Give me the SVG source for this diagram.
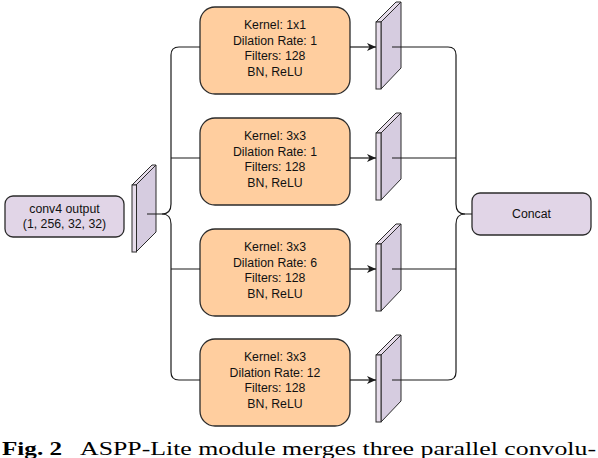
<svg xmlns="http://www.w3.org/2000/svg" width="598" height="458" viewBox="0 0 598 458">
<style>
.conv{fill:#ffce9f;stroke:#2b2b2b;stroke-width:1.3}
.pbox{fill:#e1d5e7;stroke:#2b2b2b;stroke-width:1.3}
.pf{fill:#e6dcea;stroke:#2b2b2b;stroke-width:1}
.ps{fill:#d6cce0;stroke:#2b2b2b;stroke-width:1}
.t{font-family:"Liberation Sans",Arial,sans-serif;font-size:12.3px;fill:#111;text-anchor:middle}
.w{fill:none;stroke:#1a1a1a;stroke-width:1.2}
.cap{font-family:"Liberation Serif","Times New Roman",serif;font-size:19px;fill:#000}
</style>
<defs>
<marker id="ah" markerWidth="10" markerHeight="8" refX="9" refY="4" orient="auto" markerUnits="userSpaceOnUse">
<path d="M0,0 L9,4 L0,8 L2.5,4 Z" fill="#1a1a1a"/>
</marker>
</defs>

<g id="input">
<rect class="pbox" x="5" y="196" width="119" height="41" rx="8"/>
<text class="t" x="64.5" y="213">conv4 output</text>
<text class="t" x="64.5" y="227.5">(1, 256, 32, 32)</text>
</g>

<g id="plate-in">
<polygon class="ps" points="136,185 156,165 156,232 136,252"/>
<polygon class="pf" points="132,185 152,165 156,165 136,185"/>
<rect class="pf" x="132" y="185" width="4.5" height="67"/>
</g>

<g id="conv1">
<rect class="conv" x="200" y="7" width="150" height="87" rx="15"/>
<text class="t" x="275" y="29">Kernel: 1x1</text>
<text class="t" x="275" y="44.5">Dilation Rate: 1</text>
<text class="t" x="275" y="60">Filters: 128</text>
<text class="t" x="275" y="75.5">BN, ReLU</text>
</g>
<g id="conv2">
<rect class="conv" x="200" y="118" width="150" height="87" rx="15"/>
<text class="t" x="275" y="140">Kernel: 3x3</text>
<text class="t" x="275" y="155.5">Dilation Rate: 1</text>
<text class="t" x="275" y="171">Filters: 128</text>
<text class="t" x="275" y="186.5">BN, ReLU</text>
</g>
<g id="conv3">
<rect class="conv" x="200" y="229" width="150" height="87" rx="15"/>
<text class="t" x="275" y="251">Kernel: 3x3</text>
<text class="t" x="275" y="266.5">Dilation Rate: 6</text>
<text class="t" x="275" y="282">Filters: 128</text>
<text class="t" x="275" y="297.5">BN, ReLU</text>
</g>
<g id="conv4">
<rect class="conv" x="200" y="339" width="150" height="87" rx="15"/>
<text class="t" x="275" y="361">Kernel: 3x3</text>
<text class="t" x="275" y="376.5">Dilation Rate: 12</text>
<text class="t" x="275" y="392">Filters: 128</text>
<text class="t" x="275" y="407.5">BN, ReLU</text>
</g>

<g id="plate1">
<polygon class="ps" points="381,22 401,2 401,68 381,89"/>
<polygon class="pf" points="376,22 396,2 401,2 381,22"/>
<rect class="pf" x="376" y="22" width="5" height="67"/>
</g>
<g id="plate2">
<polygon class="ps" points="381,133 401,113 401,179 381,200"/>
<polygon class="pf" points="376,133 396,113 401,113 381,133"/>
<rect class="pf" x="376" y="133" width="5" height="67"/>
</g>
<g id="plate3">
<polygon class="ps" points="381,244 401,224 401,290 381,311"/>
<polygon class="pf" points="376,244 396,224 401,224 381,244"/>
<rect class="pf" x="376" y="244" width="5" height="67"/>
</g>
<g id="plate4">
<polygon class="ps" points="381,355 401,335 401,401 381,422"/>
<polygon class="pf" points="376,355 396,335 401,335 381,355"/>
<rect class="pf" x="376" y="355" width="5" height="67"/>
</g>

<g id="concat">
<rect class="pbox" x="472" y="193" width="119" height="42" rx="8"/>
<text class="t" x="531.5" y="218">Concat</text>
</g>

<g id="connectors">
<path class="w" d="M147,214 L162,214 Q171,214 171,204 L171,55 Q171,47 179,47 L200,47"/>
<path class="w" d="M162,214 Q171,214 171,224 L171,372 Q171,380 179,380 L200,380"/>
<path class="w" d="M171,158 L200,158 M171,269 L200,269"/>
<path class="w" marker-end="url(#ah)" d="M350,47 L376,47"/>
<path class="w" marker-end="url(#ah)" d="M350,158 L376,158"/>
<path class="w" marker-end="url(#ah)" d="M350,269 L376,269"/>
<path class="w" marker-end="url(#ah)" d="M350,380 L376,380"/>
<path class="w" d="M392,47 L448,47 Q456,47 456,55 L456,204 Q456,214 465,214 L472,214"/>
<path class="w" d="M392,380 L448,380 Q456,380 456,372 L456,224 Q456,214 465,214"/>
<path class="w" d="M392,158 L456,158 M392,269 L456,269"/>
</g>

<text class="cap" x="2" y="455" font-weight="bold" textLength="60" lengthAdjust="spacingAndGlyphs">Fig. 2</text>
<text class="cap" x="80" y="455" textLength="516" lengthAdjust="spacingAndGlyphs">ASPP-Lite module merges three parallel convolu-</text>
</svg>
